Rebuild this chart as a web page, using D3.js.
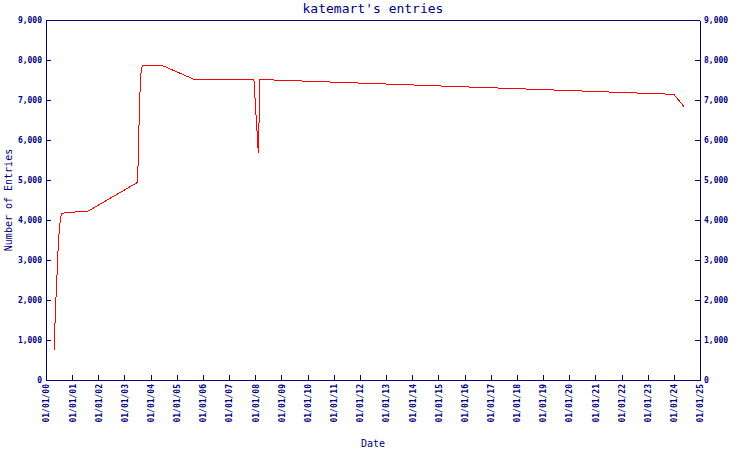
<!DOCTYPE html>
<html><head><meta charset="utf-8">
<script src="https://cdn.jsdelivr.net/npm/d3@7"></script>
<style>
body{margin:0;background:#fff;}
text{font-family:"DejaVu Sans Mono",monospace;fill:#000080;}
</style></head>
<body><svg id="c" width="750" height="450"></svg>
<script>
const titleText = "katemart's entries";
const xLabel = "Date";
const yLabel = "Number of Entries";
const dates = ["2000-04-26","2000-05-01","2000-05-06","2000-05-20","2000-05-31","2000-06-13","2000-06-21","2000-07-06","2000-08-02","2000-11-08","2001-08-05","2003-06-25","2003-07-08","2003-07-27","2003-08-14","2003-09-06","2004-05-26","2005-08-28","2007-12-13","2008-02-13","2008-03-07","2008-09-20","2010-01-01","2012-01-01","2014-01-01","2016-01-01","2018-01-01","2020-01-01","2022-01-01","2024-01-01","2024-05-30"];
const entries = [750,1225,1430,2080,2480,3150,3330,3820,4167,4190,4217,4933,5300,6700,7600,7875,7875,7517,7517,5667,7517,7500,7470,7423,7376,7329,7283,7236,7189,7142,6817];
const yTicks = [0,1000,2000,3000,4000,5000,6000,7000,8000,9000];
const xTickYears = d3.range(2000, 2026);

const svg = d3.select("#c");
const L=46,R=700,T=20,B=380;
const parse = d3.timeParse("%Y-%m-%d");
const data = dates.map((d,i)=>({d:parse(d),v:entries[i]}));
const x = d3.scaleTime().domain([new Date(2000,0,1),new Date(2025,0,1)]).range([L,R]);
const y = d3.scaleLinear().domain([0,9000]).range([B,T]);
const navy="#000080";
const fmt = d3.format(",");

const gl = svg.append("g").attr("transform",`translate(${L},0)`)
  .call(d3.axisLeft(y).tickValues(yTicks).tickFormat(fmt).tickSizeInner(-5).tickSizeOuter(0).tickPadding(4));
const gr = svg.append("g").attr("transform",`translate(${R},0)`)
  .call(d3.axisRight(y).tickValues(yTicks).tickFormat(fmt).tickSizeInner(-5).tickSizeOuter(0).tickPadding(4));
const gb = svg.append("g").attr("transform",`translate(0,${B})`)
  .call(d3.axisBottom(x).tickValues(xTickYears.map(yy=>new Date(yy,0,1))).tickFormat(d3.timeFormat("%m/%d/%y")).tickSizeInner(-5).tickSizeOuter(0));
gb.selectAll(".tick text").attr("transform","rotate(-90)").attr("text-anchor","end").attr("x",-4).attr("y",0).attr("dy","0.35em");
[gl,gr,gb].forEach(g=>{
  g.selectAll("path,line").attr("stroke",navy).attr("stroke-width",1).attr("shape-rendering","crispEdges");
  g.selectAll("text").attr("fill",navy).style("font-size","8px").style("font-weight","bold").style("font-family","'DejaVu Sans Mono',monospace");
});
svg.append("line").attr("x1",L).attr("x2",R).attr("y1",T).attr("y2",T).attr("stroke",navy).attr("shape-rendering","crispEdges");

svg.append("path").datum(data)
  .attr("d",d3.line().x(d=>x(d.d)).y(d=>y(d.v)))
  .attr("fill","none").attr("stroke","#ff0000").attr("stroke-width",1).attr("shape-rendering","crispEdges");

svg.append("text").attr("x",(L+R)/2).attr("y",13).attr("text-anchor","middle").style("font-size","13px").text(titleText);
svg.append("text").attr("x",(L+R)/2).attr("y",447).attr("text-anchor","middle").style("font-size","10px").text(xLabel);
svg.append("text").attr("transform",`translate(12,${(T+B)/2}) rotate(-90)`).attr("text-anchor","middle").style("font-size","10px").text(yLabel);
</script></body></html>
